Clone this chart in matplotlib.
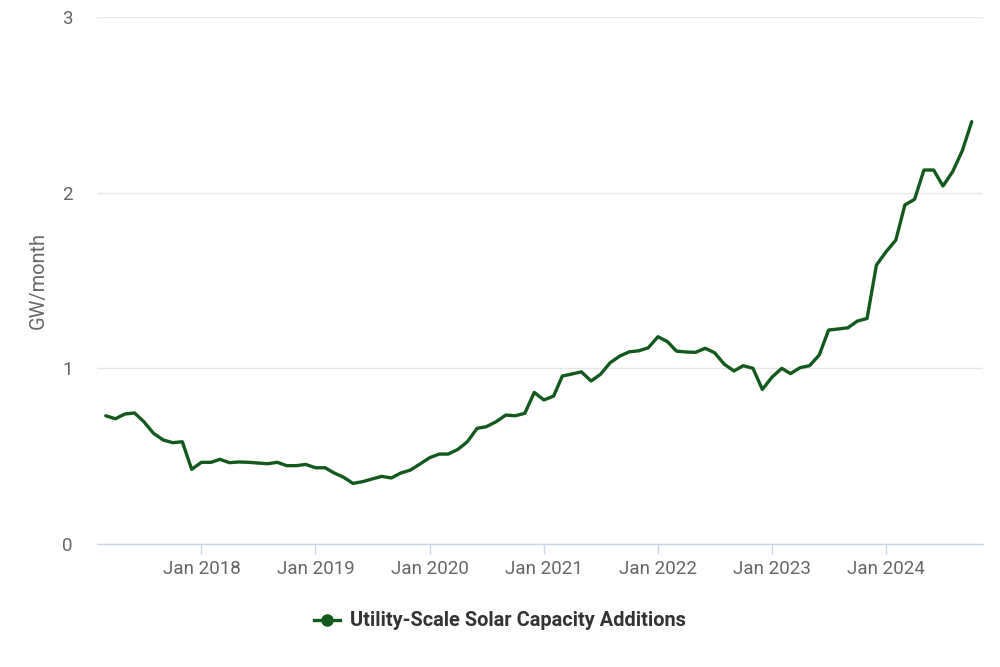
from datetime import date

import matplotlib.pyplot as plt
import matplotlib.dates as mdates
from matplotlib.lines import Line2D


OUTPUT_FILE = "out.png"

LINE_COLOR = "#12591c"
GRID_COLOR = "#e6e6e6"
AXIS_COLOR = "#ccd6eb"
LABEL_COLOR = "#666666"

SERIES_NAME = "Utility-Scale Solar Capacity Additions"
Y_LABEL = "GW/month"

START_YEAR = 2017
START_MONTH = 3

# monthly values, Mar 2017 .. Oct 2024 (GW/month)
VALUES_2017 = [0.73, 0.713, 0.74, 0.746, 0.696, 0.63, 0.592, 0.577, 0.582, 0.425]
VALUES_2018 = [0.465, 0.465, 0.482, 0.463, 0.467, 0.465,
               0.461, 0.457, 0.465, 0.446, 0.446, 0.453]
VALUES_2019 = [0.434, 0.434, 0.405, 0.38, 0.345, 0.355,
               0.37, 0.385, 0.376, 0.404, 0.421, 0.455]
VALUES_2020 = [0.491, 0.512, 0.512, 0.539, 0.582, 0.658,
               0.668, 0.696, 0.734, 0.73, 0.744, 0.863]
VALUES_2021 = [0.82, 0.842, 0.956, 0.968, 0.98, 0.928,
               0.966, 1.032, 1.07, 1.094, 1.10, 1.117]
VALUES_2022 = [1.18, 1.151, 1.098, 1.093, 1.091, 1.114,
               1.089, 1.024, 0.985, 1.015, 1.0, 0.88]
VALUES_2023 = [0.95, 1.0, 0.97, 1.004, 1.015, 1.076,
               1.218, 1.224, 1.231, 1.269, 1.284, 1.588]
VALUES_2024 = [1.664, 1.73, 1.93, 1.962, 2.129, 2.129,
               2.038, 2.12, 2.24, 2.404]

TICK_YEARS = [2018, 2019, 2020, 2021, 2022, 2023, 2024]
Y_TICKS = [0, 1, 2, 3]


def monthly_dates(count: int) -> list:
    dates = []
    year, month = START_YEAR, START_MONTH
    for _ in range(count):
        dates.append(date(year, month, 1))
        month += 1
        if month > 12:
            month = 1
            year += 1
    return dates


def main() -> None:
    plt.rcParams["font.family"] = ["Roboto", "DejaVu Sans"]

    values = (
        VALUES_2017 + VALUES_2018 + VALUES_2019 + VALUES_2020
        + VALUES_2021 + VALUES_2022 + VALUES_2023 + VALUES_2024
    )
    dates = monthly_dates(len(values))

    figure = plt.figure(figsize=(10, 6.67), dpi=100)
    axes = figure.add_axes([0.097, 0.1844, 0.886, 0.7901])

    axes.plot(
        dates,
        values,
        color=LINE_COLOR,
        linewidth=2.4,
        solid_joinstyle="round",
        solid_capstyle="round",
    )

    axes.set_ylim(0, 3)
    axes.set_xlim(date(2017, 2, 1), date(2024, 11, 6))

    axes.set_yticks(Y_TICKS)
    axes.set_yticklabels([str(tick) for tick in Y_TICKS])
    axes.grid(axis="y", color=GRID_COLOR, linewidth=1)
    axes.set_axisbelow(True)

    tick_dates = [date(year, 1, 1) for year in TICK_YEARS]
    axes.set_xticks(tick_dates)
    axes.xaxis.set_major_formatter(mdates.DateFormatter("Jan %Y"))

    for side in ["top", "right", "left"]:
        axes.spines[side].set_visible(False)
    axes.spines["bottom"].set_color(AXIS_COLOR)
    axes.spines["bottom"].set_linewidth(1)

    axes.tick_params(
        axis="x",
        colors=AXIS_COLOR,
        labelcolor=LABEL_COLOR,
        length=7.5,
        width=1,
        pad=4,
        labelsize=13.5,
    )
    axes.tick_params(
        axis="y",
        length=0,
        pad=17.5,
        labelcolor=LABEL_COLOR,
        labelsize=13.5,
    )

    axes.set_ylabel(Y_LABEL, color=LABEL_COLOR, fontsize=14.4, labelpad=10)

    handle = Line2D(
        [],
        [],
        color=LINE_COLOR,
        linewidth=2.4,
        marker="o",
        markersize=8,
    )
    figure.legend(
        [handle],
        [SERIES_NAME],
        loc="center",
        bbox_to_anchor=(0.5, 1 - 621 / 667),
        frameon=False,
        handlelength=1.3,
        handletextpad=0.5,
        prop={"weight": "bold", "size": 14.4},
        labelcolor="#333333",
    )

    figure.savefig(OUTPUT_FILE, dpi=100)
    plt.close(figure)


if __name__ == "__main__":
    main()
